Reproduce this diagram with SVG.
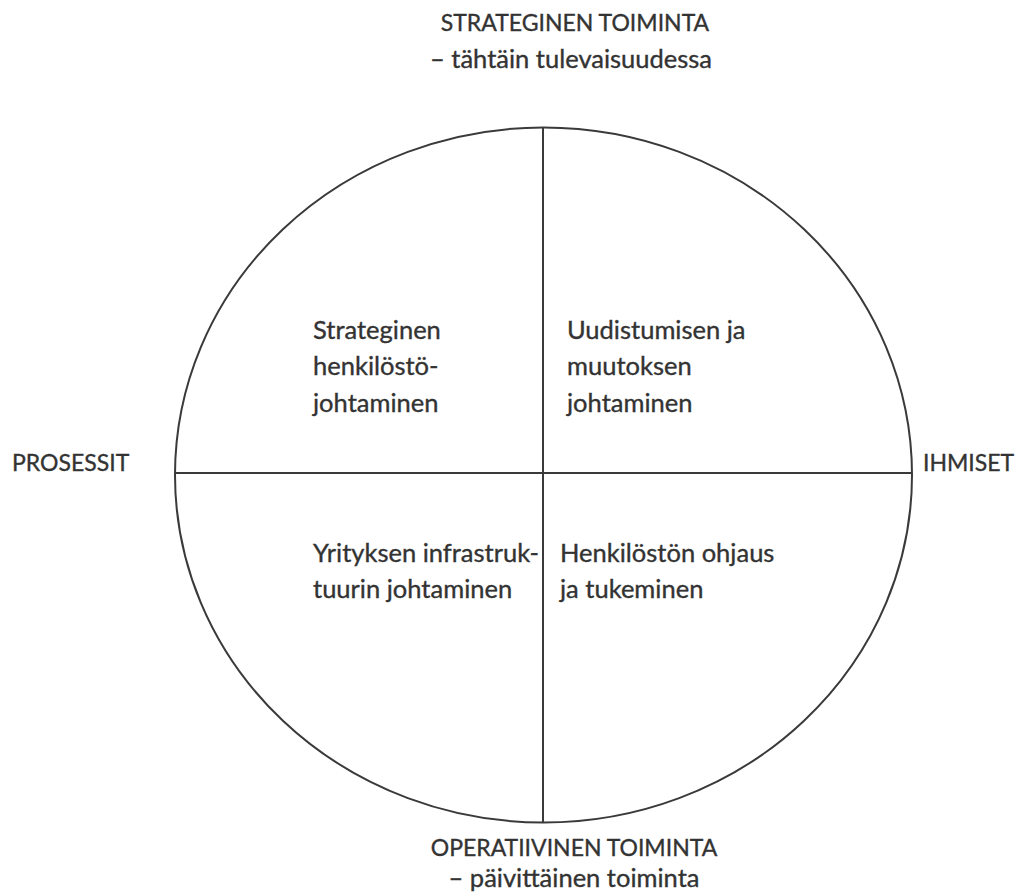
<svg xmlns="http://www.w3.org/2000/svg" width="1020" height="892" viewBox="0 0 1020 892">
<style>
text{font-family:"Lato","Open Sans","Liberation Sans",sans-serif;font-size:25.5px;fill:#333;stroke:#333;stroke-width:0.35}
text.cap{font-size:23px}
.ln{stroke:#3a3a3a;stroke-width:2;fill:none}
</style>
<rect width="1020" height="892" fill="#fff"/>
<g id="connectors">
<ellipse class="ln" cx="543.5" cy="475" rx="368.5" ry="347.5"/>
<line class="ln" x1="543" y1="127.5" x2="543" y2="822.5"/>
<line class="ln" x1="175" y1="473" x2="912" y2="473"/>
</g>
<g id="top"><text class="cap" x="575" y="31" text-anchor="middle">STRATEGINEN TOIMINTA</text><text x="571" y="68" text-anchor="middle">– tähtäin tulevaisuudessa</text></g>
<g id="bottom"><text class="cap" x="574" y="856" text-anchor="middle">OPERATIIVINEN TOIMINTA</text><text x="574" y="887" text-anchor="middle">– päivittäinen toiminta</text></g>
<g id="left"><text class="cap" x="12" y="471">PROSESSIT</text></g>
<g id="right"><text class="cap" x="923" y="471">IHMISET</text></g>
<g id="q1"><text x="313" y="339">Strateginen</text><text x="313" y="375">henkilöstö-</text><text x="313" y="412">johtaminen</text></g>
<g id="q2"><text x="567" y="339">Uudistumisen ja</text><text x="567" y="375">muutoksen</text><text x="567" y="412">johtaminen</text></g>
<g id="q3"><text x="313" y="562">Yrityksen infrastruk-</text><text x="313" y="598">tuurin johtaminen</text></g>
<g id="q4"><text x="560" y="562">Henkilöstön ohjaus</text><text x="560" y="598">ja tukeminen</text></g>
</svg>
